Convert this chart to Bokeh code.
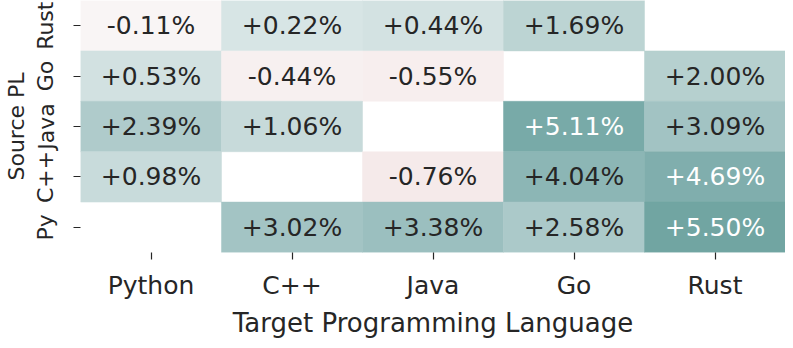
from bokeh.plotting import figure
from bokeh.models import ColumnDataSource, LinearColorMapper, FactorRange
from bokeh.embed import file_html
from bokeh.resources import INLINE
from bokeh.core.properties import value

# ---- data ----
targets = ["Python", "C++", "Java", "Go", "Rust"]
sources = ["Py", "C++", "Java", "Go", "Rust"]  # bottom to top

cell_source = ["Rust", "Rust", "Rust", "Rust",
               "Go", "Go", "Go", "Go",
               "Java", "Java", "Java", "Java",
               "C++", "C++", "C++", "C++",
               "Py", "Py", "Py", "Py"]
cell_target = ["Python", "C++", "Java", "Go",
               "Python", "C++", "Java", "Rust",
               "Python", "C++", "Go", "Rust",
               "Python", "Java", "Go", "Rust",
               "C++", "Java", "Go", "Rust"]
cell_value = [-0.11, 0.22, 0.44, 1.69,
              0.53, -0.44, -0.55, 2.00,
              2.39, 1.06, 5.11, 3.09,
              0.98, -0.76, 4.04, 4.69,
              3.02, 3.38, 2.58, 5.50]

# ---- colour map (style) ----
anchors = [(-0.80, "#f5e9e9"), (-0.55, "#f7eeee"), (-0.11, "#f9f5f5"),
           (0.00, "#e8eeee"), (0.22, "#d6e4e4"), (0.53, "#d2e1e1"),
           (1.00, "#c8dbdb"), (1.69, "#bcd4d3"), (2.39, "#afcbcb"),
           (3.09, "#a2c3c3"), (4.04, "#8cb6b5"), (4.69, "#80aead"),
           (5.11, "#78aaa8"), (5.60, "#70a4a1")]
LOW, HIGH, N = anchors[0][0], anchors[-1][0], 256


def hex2rgb(h):
    return [int(h[i:i + 2], 16) for i in (1, 3, 5)]


palette = []
for k in range(N):
    v = LOW + (HIGH - LOW) * k / (N - 1)
    for (v0, c0), (v1, c1) in zip(anchors[:-1], anchors[1:]):
        if v0 <= v <= v1:
            t = (v - v0) / (v1 - v0)
            a, b = hex2rgb(c0), hex2rgb(c1)
            rgb = [round(a[i] + (b[i] - a[i]) * t) for i in range(3)]
            palette.append("#%02x%02x%02x" % tuple(rgb))
            break
mapper = LinearColorMapper(palette=palette, low=LOW, high=HIGH)

labels = [("%+.2f%%" % v) for v in cell_value]
text_colors = ["#ffffff" if v > 4.5 else "#262626" for v in cell_value]

src = ColumnDataSource(dict(src=cell_source, tgt=cell_target, val=cell_value,
                            lab=labels, tc=text_colors))

p = figure(x_range=FactorRange(*targets), y_range=FactorRange(*sources),
           width=785, height=340, output_backend="svg", toolbar_location=None,
           min_border_left=76, min_border_right=0, min_border_top=0,
           min_border_bottom=82)

p.rect(x="tgt", y="src", width=1, height=1, source=src,
       fill_color={"field": "val", "transform": mapper},
       line_color={"field": "val", "transform": mapper}, line_width=0.5)

p.text(x="tgt", y="src", text="lab", source=src, text_color="tc",
       text_align="center", text_baseline="middle",
       text_font=value("DejaVu Sans"), text_font_size="25px")

p.outline_line_color = None
p.xgrid.grid_line_color = None
p.ygrid.grid_line_color = None
p.background_fill_color = "white"

for ax in (p.xaxis, p.yaxis):
    ax.axis_line_color = None
    ax.major_tick_in = 0
    ax.major_tick_out = 7
    ax.major_tick_line_color = "#262626"
    ax.major_tick_line_width = 1.2
    ax.major_label_text_font = "DejaVu Sans"
    ax.major_label_text_color = "#262626"
    ax.axis_label_text_font = "DejaVu Sans"
    ax.axis_label_text_font_style = "normal"
    ax.axis_label_text_color = "#262626"

p.xaxis.major_label_text_font_size = "25px"
p.xaxis.axis_label_text_font_size = "26px"
p.yaxis.major_label_text_font_size = "22px"
p.yaxis.axis_label_text_font_size = "22px"

p.xaxis.axis_label = "Target Programming Language"
p.yaxis.axis_label = "Source PL"
p.yaxis.major_label_orientation = "vertical"
p.xaxis.major_label_standoff = 11
p.yaxis.major_label_standoff = 15
p.xaxis.axis_label_standoff = 5
p.yaxis.axis_label_standoff = 2

open("out.html", "w").write(file_html(p, INLINE))
